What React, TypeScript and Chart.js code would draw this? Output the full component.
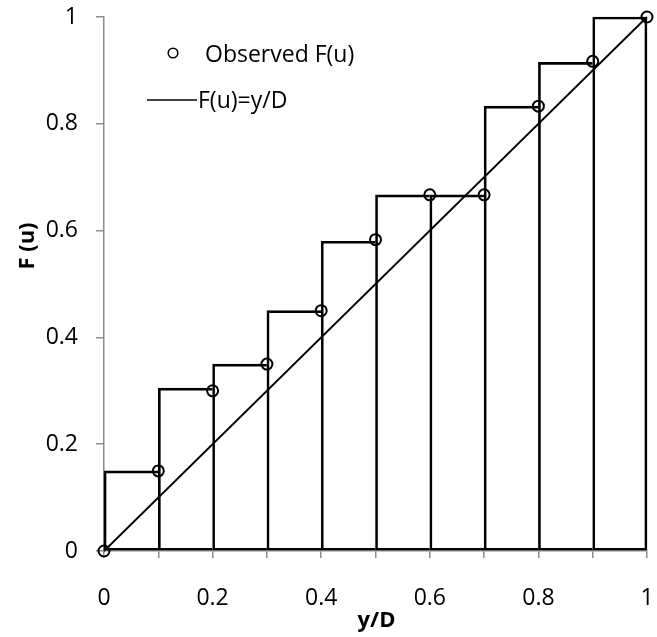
import React, { useEffect, useRef } from "react";
import { Chart, registerables } from "chart.js";

Chart.register(...registerables);

// ---- data ----
const binEdges = [0, 0.1, 0.2, 0.3, 0.4, 0.5, 0.6, 0.7, 0.8, 0.9, 1.0];
const barHeights = [0.15, 0.305, 0.35, 0.45, 0.58, 0.667, 0.667, 0.833, 0.915, 1.0];
const observedX = [0, 0.1, 0.2, 0.3, 0.4, 0.5, 0.6, 0.7, 0.8, 0.9, 1.0];
const observedY = [0, 0.15, 0.3, 0.35, 0.45, 0.583, 0.667, 0.667, 0.833, 0.917, 1.0];
const theoryX = [0, 1];
const theoryY = [0, 1];
const legendLabels = ["Observed F(u)", "F(u)=y/D"];
const xTitle = "y/D";
const yTitle = "F (u)";

const FONT = "'Open Sans', 'DejaVu Sans', sans-serif";
const GRAY = "#8c8c8c";

const overlayPlugin = {
  id: "overlay",
  afterDraw(chart: any) {
    const ctx = chart.ctx as CanvasRenderingContext2D;
    ctx.save();
    ctx.fillStyle = "#000";
    ctx.strokeStyle = "#000";
    // legend
    ctx.lineWidth = 1.6;
    ctx.beginPath();
    ctx.arc(173, 53, 4.8, 0, Math.PI * 2);
    ctx.stroke();
    ctx.font = `23px ${FONT}`;
    ctx.textAlign = "left";
    ctx.textBaseline = "middle";
    ctx.fillText(legendLabels[0], 205, 55);
    ctx.beginPath();
    ctx.moveTo(147, 100);
    ctx.lineTo(197, 100);
    ctx.stroke();
    ctx.fillText(legendLabels[1], 198, 101);
    // axis titles
    ctx.font = `bold 22px ${FONT}`;
    ctx.textAlign = "center";
    ctx.textBaseline = "middle";
    const area = chart.chartArea;
    ctx.fillText(xTitle, (area.left + area.right) / 2 + 1, 621);
    ctx.translate(28, 246);
    ctx.rotate(-Math.PI / 2);
    ctx.fillText(yTitle, 0, 0);
    ctx.restore();
  },
};

const zeroPad = (s: any) => {
  s.paddingTop = 0;
  s.paddingBottom = 0;
  s.paddingLeft = 0;
  s.paddingRight = 0;
};

export default function App() {
  const canvasRef = useRef<HTMLCanvasElement | null>(null);

  useEffect(() => {
    document.body.style.margin = "0";
    const canvas = canvasRef.current;
    if (!canvas) return;
    const lastBar = barHeights.length - 1;
    const chart = new Chart(canvas, {
      type: "scatter",
      data: {
        datasets: [
          {
            type: "scatter",
            label: legendLabels[0],
            data: observedX.map((x, i) => ({ x, y: observedY[i] })),
            pointRadius: 5.5,
            pointBorderWidth: 2,
            pointBorderColor: "#000",
            pointBackgroundColor: "rgba(0,0,0,0)",
            showLine: false,
            clip: false,
            order: 0,
          } as any,
          {
            type: "line",
            label: legendLabels[1],
            data: theoryX.map((x, i) => ({ x, y: theoryY[i] })),
            borderColor: "#000",
            borderWidth: 1.8,
            pointRadius: 0,
            fill: false,
            clip: false,
            order: 1,
          } as any,
          {
            type: "bar",
            label: "bins",
            data: barHeights.map((h, i) => ({
              x: (binEdges[i] + binEdges[i + 1]) / 2,
              y: h,
            })),
            backgroundColor: "rgba(0,0,0,0)",
            borderColor: "#000",
            borderWidth: 2,
            borderSkipped: (c: any) => (c.dataIndex === lastBar ? false : "right"),
            categoryPercentage: 1,
            barPercentage: 1,
            clip: false,
            order: 2,
          } as any,
        ],
      },
      options: {
        responsive: false,
        animation: false,
        layout: { padding: { left: 0, right: 10, top: 17, bottom: 0 } },
        plugins: {
          legend: { display: false },
          tooltip: { enabled: false },
          title: { display: false },
        },
        scales: {
          x: {
            type: "linear",
            min: 0,
            max: 1,
            offset: false,
            afterFit: (s: any) => {
              s.height = 86;
              zeroPad(s);
            },
            grid: {
              offset: false,
              drawOnChartArea: false,
              drawTicks: true,
              tickLength: 7,
              color: GRAY,
              lineWidth: 1.5,
            },
            border: { display: true, color: GRAY, width: 1.5 },
            ticks: {
              stepSize: 0.1,
              autoSkip: false,
              maxRotation: 0,
              padding: 27,
              color: "#000",
              font: { family: FONT, size: 23 },
              callback: (v: any) => {
                const n = Math.round(Number(v) * 10);
                return n % 2 === 0 ? String(n / 10) : "";
              },
            },
          },
          y: {
            type: "linear",
            min: 0,
            max: 1,
            afterFit: (s: any) => {
              s.width = 104;
              zeroPad(s);
            },
            grid: {
              drawOnChartArea: false,
              drawTicks: true,
              tickLength: 8,
              color: GRAY,
              lineWidth: 1.5,
            },
            border: { display: true, color: GRAY, width: 1.5 },
            ticks: {
              stepSize: 0.2,
              padding: 18,
              color: "#000",
              font: { family: FONT, size: 23 },
              callback: (v: any) => String(Math.round(Number(v) * 10) / 10),
            },
          },
        },
      },
      plugins: [overlayPlugin],
    });
    return () => chart.destroy();
  }, []);

  return (
    <div style={{ width: 657, height: 637, position: "relative", background: "#fff" }}>
      <canvas ref={canvasRef} width={657} height={637} style={{ display: "block" }} />
    </div>
  );
}
